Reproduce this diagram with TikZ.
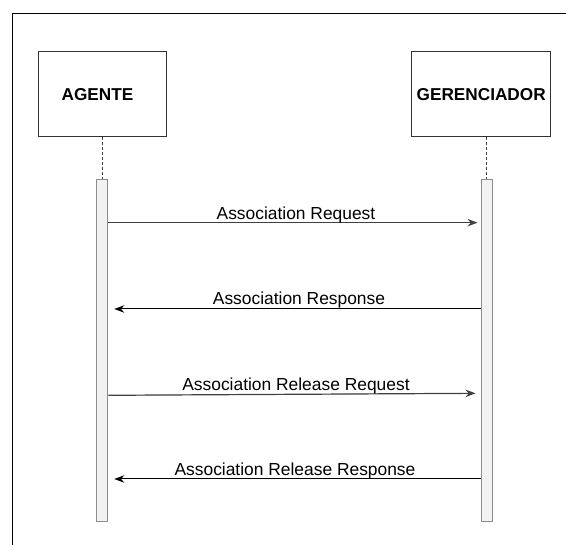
\documentclass[tikz,border=0pt]{standalone}
\usepackage{fontspec}
\setmainfont{Liberation Sans}
\usetikzlibrary{arrows.meta}
\begin{document}
\begin{tikzpicture}[x=1pt,y=-1pt,
 actor/.style={draw=black!80, line width=1pt, minimum width=128pt, minimum height=85pt, inner sep=0pt, font=\fontsize{17.2}{20}\selectfont\bfseries},
 bar/.style={draw=black!45, fill=black!5, line width=1pt, minimum width=11pt, minimum height=342pt, inner sep=0pt},
 life/.style={draw=black!75, line width=0.8pt, dash pattern=on 3pt off 2pt},
 msg/.style={line width=1pt, -{Stealth[length=10pt,width=7.5pt]}},
 lbl/.style={font=\fontsize{17.4}{20}\selectfont, anchor=base, inner sep=0pt}]
\useasboundingbox (0,0) rectangle (566,545);
\draw[line width=1pt] (566,14) -- (12,14) -- (12,545);

\node[actor] (agente) at (102,94.5) {\hspace*{-9pt}AGENTE};
\node[actor, minimum width=139pt] (ger) at (481.2,94.5) {GERENCIADOR};
\node[bar] (abar) at (102.3,351) {};
\node[bar] (gbar) at (486.5,351) {};
\draw[life] (abar.north |- agente.south) -- (abar.north);
\draw[life] (gbar.north |- ger.south) -- (gbar.north);

\coordinate (y1) at (0,222.7);
\coordinate (y2) at (0,309);
\coordinate (y3a) at (0,395.3);
\coordinate (y3b) at (0,393.3);
\coordinate (y4) at (0,479);

\draw[msg, draw=black!75, fill=black!75, line width=1.2pt, shorten >=3pt] (abar.east |- y1) -- (gbar.west |- y1);
\draw[msg, shorten >=6pt] (gbar.west |- y2) -- (abar.east |- y2);
\draw[msg, draw=black!75, fill=black!75, line width=1.2pt, shorten >=5pt] (abar.east |- y3a) -- (gbar.west |- y3b);
\draw[msg, shorten >=6pt] (gbar.west |- y4) -- (abar.east |- y4);

\node[lbl] (l1) at (296,219.3) {Association Request};
\node[lbl] (l2) at (299,305) {Association Response};
\node[lbl] (l3) at (296,390.7) {Association Release Request};
\node[lbl] (l4) at (295,475.7) {Association Release Response};
\end{tikzpicture}
\end{document}
